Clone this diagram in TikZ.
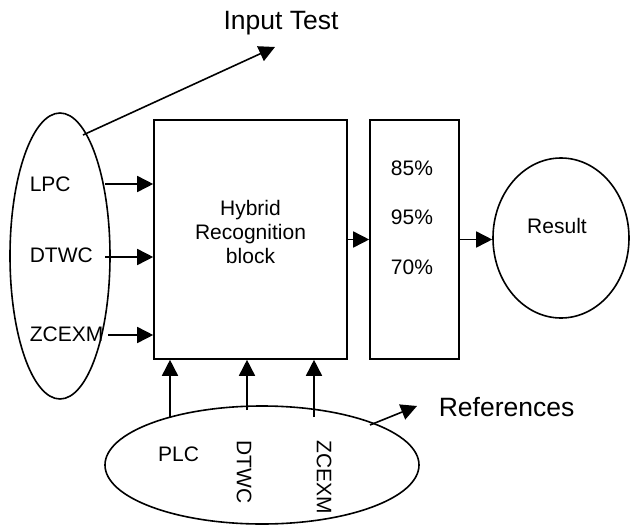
\documentclass[tikz,border=0pt]{standalone}
\usepackage{fontspec}
\setmainfont{Liberation Sans}
\usetikzlibrary{arrows.meta,shapes.geometric}
\begin{document}
\begin{tikzpicture}[x=1pt,y=-1pt,
  line width=1.6pt,
  oval/.style={ellipse, draw, inner sep=0pt},
  block/.style={rectangle, draw, inner sep=0pt},
  lbl/.style={font=\fontsize{21}{24}\selectfont, inner sep=0pt},
  biglbl/.style={font=\fontsize{26.5}{30}\selectfont, inner sep=0pt},
  flow/.style={-{Triangle[length=16pt,width=16pt]}}]
\useasboundingbox (0,0) rectangle (630,525);

% shapes
\node[oval, minimum width=100pt, minimum height=286pt] (inp) at (60,256) {};
\node[block, minimum width=193pt, minimum height=239pt] (hyb) at (250.5,239.5) {};
\node[block, minimum width=89pt, minimum height=239pt] (pct) at (414.5,239.5) {};
\node[oval, minimum width=136pt, minimum height=160pt] (res) at (561,238) {};
\node[oval, minimum width=314pt, minimum height=118pt] (refs) at (262,465) {};

% texts
\node[lbl, align=center] (hybtxt) at (250.5,232) {Hybrid\\Recognition\\block};
\node[lbl] (p85) at (412,168) {85\%};
\node[lbl] (p95) at (412,217) {95\%};
\node[lbl] (p70) at (412,267) {70\%};
\node[lbl] (restxt) at (557,226) {Result};
\node[lbl, anchor=west] (lpc) at (29,184) {LPC};
\node[lbl, anchor=west] (dtwc) at (29,255) {DTWC};
\node[lbl, anchor=west] (zcexm) at (29,334.5) {ZCEXM};
\node[lbl] (plc) at (178.5,454) {PLC};
\node[lbl, rotate=-90] (rdtwc) at (244,472) {DTWC};
\node[lbl, rotate=-90] (rzcexm) at (324,477) {ZCEXM};
\node[biglbl] (intest) at (281,23) {Input Test};
\node[biglbl, anchor=west] (reftxt) at (438,407) {References};

% connector ends
\coordinate (a1) at (105,184);
\coordinate (a2) at (105,257);
\coordinate (a3) at (108,335);
\coordinate (b1) at (170,417);
\coordinate (b2) at (247,410);
\coordinate (b3) at (314,417);
\coordinate (intail) at (83,135);
\coordinate (inhead) at (275,47);
\coordinate (reftail) at (370,425);
\coordinate (refhead) at (417,406);

% connectors
\draw[flow] (a1) -- (a1 -| hyb.west);
\draw[flow] (a2) -- (a2 -| hyb.west);
\draw[flow] (a3) -- (a3 -| hyb.west);
\draw[flow] (b1) -- (b1 |- hyb.south);
\draw[flow] (b2) -- (b2 |- hyb.south);
\draw[flow] (b3) -- (b3 |- hyb.south);
\draw[flow] (hyb.east) -- (pct.west);
\draw[flow] (pct.east) -- (pct.east -| res.west);
\draw[flow] (intail) -- (inhead);
\draw[flow] (reftail) -- (refhead);
\end{tikzpicture}
\end{document}
